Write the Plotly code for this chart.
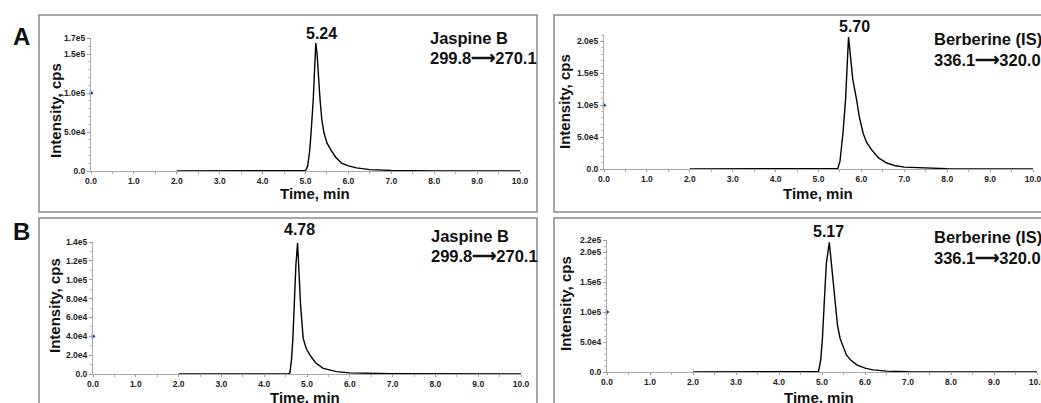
import plotly.graph_objects as go

W, H = 1041, 403

# ---------------- data ----------------
# Panel A, Jaspine B (299.8 -> 270.1)
a_jas_t = [2.0, 4.9, 5.0, 5.05, 5.1, 5.13, 5.18, 5.22, 5.24, 5.27, 5.3, 5.34, 5.38, 5.43,
           5.5, 5.59, 5.7, 5.84, 6.0, 6.19, 6.5, 7.0, 8.0, 10.0]
a_jas_i = [0, 0, 500, 6e3, 2.7e4, 4.9e4, 9.1e4, 1.4e5, 1.64e5, 1.5e5, 1.2e5, 9.1e4, 6.6e4, 4.9e4,
           3.6e4, 2.7e4, 1.8e4, 1.0e4, 6.5e3, 4e3, 1.8e3, 700, 200, 0]
# Panel A, Berberine (IS) (336.1 -> 320.0)
a_ber_t = [2.0, 5.4, 5.45, 5.5, 5.55, 5.57, 5.63, 5.67, 5.70, 5.74, 5.8, 5.89, 5.95, 6.04,
           6.12, 6.24, 6.4, 6.59, 6.8, 7.0, 7.5, 8.0, 10.0]
a_ber_i = [0, 0, 1e3, 1.2e4, 4.2e4, 5.6e4, 1.08e5, 1.7e5, 2.07e5, 1.8e5, 1.4e5, 1.08e5, 8.2e4, 5.6e4,
           4.2e4, 3.0e4, 1.75e4, 9.4e3, 5e3, 3e3, 1.2e3, 500, 0]
# Panel B, Jaspine B
b_jas_t = [2.0, 4.55, 4.6, 4.64, 4.67, 4.70, 4.74, 4.78, 4.81, 4.85, 4.91, 4.98, 5.07, 5.2,
           5.38, 5.69, 6.0, 6.5, 7.0, 10.0]
b_jas_i = [0, 0, 1e3, 1.6e4, 3.8e4, 7.3e4, 1.15e5, 1.39e5, 1.1e5, 7.3e4, 3.8e4, 2.7e4, 2.0e4, 1.2e4,
           6e3, 2.5e3, 1.2e3, 500, 200, 0]
# Panel B, Berberine (IS)
b_ber_t = [2.0, 4.88, 4.92, 4.97, 5.01, 5.05, 5.1, 5.17, 5.22, 5.3, 5.36, 5.42, 5.5, 5.57,
           5.68, 5.81, 6.0, 6.19, 6.5, 7.0, 10.0]
b_ber_i = [0, 0, 1e3, 2e4, 5.6e4, 1.12e5, 1.8e5, 2.16e5, 1.8e5, 1.12e5, 7.8e4, 5.6e4, 4e4, 2.8e4,
           1.9e4, 1.2e4, 6.5e3, 3.5e3, 1.5e3, 600, 0]

x_tickvals = [0, 1, 2, 3, 4, 5, 6, 7, 8, 9, 10]
x_ticktext = ["0.0", "1.0", "2.0", "3.0", "4.0", "5.0", "6.0", "7.0", "8.0", "9.0", "10.0"]

a_jas_yvals = [0, 5e4, 1e5, 1.5e5, 1.7e5]
a_jas_ytext = ["0.0", "5.0e4", "1.0e5", "1.5e5", "1.7e5"]
a_ber_yvals = [0, 5e4, 1e5, 1.5e5, 2e5]
a_ber_ytext = ["0.0", "5.0e4", "1.0e5", "1.5e5", "2.0e5"]
b_jas_yvals = [0, 2e4, 4e4, 6e4, 8e4, 1e5, 1.2e5, 1.4e5]
b_jas_ytext = ["0.0", "2.0e4", "4.0e4", "6.0e4", "8.0e4", "1.0e5", "1.2e5", "1.4e5"]
b_ber_yvals = [0, 5e4, 1e5, 1.5e5, 2e5, 2.2e5]
b_ber_ytext = ["0.0", "5.0e4", "1.0e5", "1.5e5", "2.0e5", "2.2e5"]

peak_labels = ["5.24", "5.70", "4.78", "5.17"]
compounds = ["Jaspine B", "Berberine (IS)", "Jaspine B", "Berberine (IS)"]
transitions = ["299.8⟶270.1", "336.1⟶320.0", "299.8⟶270.1", "336.1⟶320.0"]
marker_levels = [1e5, 1e5, 4e4, 1e5]
y_max = [1.7e5, 2.11e5, 1.4e5, 2.2e5]

# ---------------- layout geometry (pixels) ----------------
def px_x(p):
    return p / W

def px_y(p):
    return 1 - p / H

panels = [
    dict(x=(91, 520), y=(171, 38.4), ytv=a_jas_yvals, ytt=a_jas_ytext, t=a_jas_t, i=a_jas_i),
    dict(x=(604, 1033), y=(169, 34.4), ytv=a_ber_yvals, ytt=a_ber_ytext, t=a_ber_t, i=a_ber_i),
    dict(x=(93, 521), y=(374, 242), ytv=b_jas_yvals, ytt=b_jas_ytext, t=b_jas_t, i=b_jas_i),
    dict(x=(607, 1037), y=(372, 240), ytv=b_ber_yvals, ytt=b_ber_ytext, t=b_ber_t, i=b_ber_i),
]

FONT = "Liberation Sans, Arial, sans-serif"
fig = go.Figure()
layout = dict(
    width=W, height=H, margin=dict(l=0, r=0, t=0, b=0, autoexpand=False),
    paper_bgcolor="white", plot_bgcolor="white", showlegend=False,
    font=dict(family=FONT, color="#111"),
)


def label(text, x, y, size, xanchor="center", angle=0):
    return dict(text=text, x=px_x(x), y=px_y(y), xref="paper", yref="paper",
                xanchor=xanchor, yanchor="middle", textangle=angle, showarrow=False,
                font=dict(size=size, family=FONT, color="#111", weight="bold"))


annotations = []
for k, p in enumerate(panels):
    n = "" if k == 0 else str(k + 1)
    xa, ya = "x" + n, "y" + n
    fig.add_trace(go.Scatter(x=p["t"], y=p["i"], mode="lines", xaxis=xa, yaxis=ya,
                             line=dict(color="black", width=1.4), hoverinfo="skip"))
    fig.add_trace(go.Scatter(x=[0], y=[marker_levels[k]], mode="markers", xaxis=xa, yaxis=ya,
                             cliponaxis=False,
                             marker=dict(symbol="triangle-right", size=5, color="#1d3c8f"),
                             hoverinfo="skip"))
    layout["xaxis" + n] = dict(
        domain=[px_x(p["x"][0]), px_x(p["x"][1])], anchor=ya, range=[0, 10], automargin=False,
        tickmode="array", tickvals=x_tickvals, ticktext=x_ticktext, ticklabeloverflow="allow",
        tickfont=dict(size=8.5, family=FONT, color="#222", weight="bold"),
        ticks="outside", ticklen=2, tickcolor="#999", showgrid=False, zeroline=False,
        showline=True, linecolor="#aaa", linewidth=1,
        minor=dict(dtick=0.5, tick0=0, ticks="outside", ticklen=2, tickcolor="#aaa"),
    )
    layout["yaxis" + n] = dict(
        domain=[px_y(p["y"][0]), px_y(p["y"][1])], anchor=xa, range=[0, y_max[k]], automargin=False,
        tickmode="array", tickvals=p["ytv"], ticktext=p["ytt"], ticklabeloverflow="allow",
        tickfont=dict(size=8.5, family=FONT, color="#222", weight="bold"),
        ticks="outside", ticklen=3, tickcolor="#999", showgrid=False, zeroline=False,
        showline=True, linecolor="#aaa", linewidth=1,
        minor=dict(dtick=1e4, tick0=0, ticks="outside", ticklen=2, tickcolor="#bbb"),
    )

# text positions (pixels)
peak_pos = [(321.7, 33), (854, 27), (299, 230), (828, 231)]
name_pos = [(428, 38, 58), (931.7, 39, 60), (429, 236, 256), (931.7, 237, 258)]
ytitle_pos = [(55, 111), (565, 102), (54, 306), (565, 304)]
xtitle_pos = [(315, 193), (818, 193), (305, 397), (819, 397)]

for k in range(4):
    annotations.append(label(peak_labels[k], peak_pos[k][0], peak_pos[k][1], 16))
    nx, ny1, ny2 = name_pos[k]
    annotations.append(label(compounds[k], nx, ny1, 16.5, xanchor="left"))
    annotations.append(label(transitions[k], nx, ny2, 16.5, xanchor="left"))
    annotations.append(label("Intensity, cps", ytitle_pos[k][0], ytitle_pos[k][1], 15, angle=-90))
    annotations.append(label("Time, min", xtitle_pos[k][0], xtitle_pos[k][1], 15))

annotations.append(label("A", 21, 37, 24))
annotations.append(label("B", 21, 231, 24))

frames = [(39, 15, 537, 212), (554, 15, 1050, 212), (39, 218, 537, 410), (554, 218, 1050, 410)]
shapes = []
for (x0, y0, x1, y1) in frames:
    shapes.append(dict(type="rect", xref="paper", yref="paper",
                       x0=px_x(x0), x1=px_x(x1), y0=px_y(y1), y1=px_y(y0),
                       line=dict(color="#8a8a8a", width=1.5), fillcolor="rgba(0,0,0,0)", layer="below"))

layout["annotations"] = annotations
layout["shapes"] = shapes
fig.update_layout(**layout)
fig.write_html("out.html", config={"displayModeBar": False},
               post_script="document.body.style.margin='0';document.body.style.overflow='hidden';")
